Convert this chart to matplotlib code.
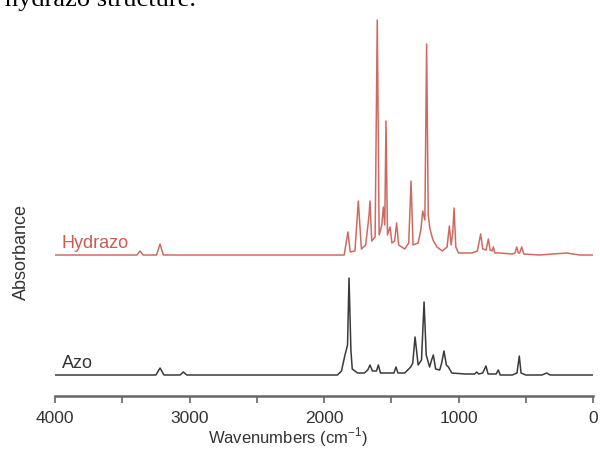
import matplotlib.pyplot as plt
from matplotlib.ticker import MultipleLocator

plt.rcParams['font.family'] = ['Liberation Sans', 'DejaVu Sans']

# Hydrazo spectrum vertices (wavenumber, absorbance above its own baseline)
hyd_wn = [4000, 3390, 3368, 3345, 3245, 3219, 3195,
          1850, 1822, 1805, 1770, 1745, 1722, 1690, 1665, 1658, 1645, 1620,
          1604, 1590, 1570, 1559, 1548, 1539, 1528, 1509, 1495, 1475, 1460,
          1445, 1400, 1370, 1353, 1338, 1300, 1280, 1266, 1250, 1237, 1225,
          1212, 1190, 1160, 1120, 1085, 1068, 1055, 1043, 1033, 1020, 1000,
          900, 860, 835, 820, 795, 778, 765, 750, 741, 730, 700, 600, 580,
          567, 555, 545, 530, 515, 400, 300, 196, 100, 0]
hyd_abs = [0, 0, 0.04, 0, 0, 0.11, 0,
           0, 0.23, 0.03, 0.04, 0.54, 0.06, 0.10, 0.40, 0.54, 0.14, 0.18,
           2.35, 0.20, 0.30, 0.48, 0.30, 1.34, 0.20, 0.28, 0.12, 0.14, 0.32,
           0.10, 0.06, 0.12, 0.74, 0.10, 0.12, 0.25, 0.44, 0.35, 2.11, 0.40,
           0.26, 0.15, 0.08, 0.04, 0.08, 0.29, 0.10, 0.22, 0.47, 0.08, 0.02,
           0.02, 0.04, 0.21, 0.06, 0.05, 0.16, 0.05, 0.04, 0.08, 0.02, 0.02,
           0.01, 0.02, 0.08, 0.02, 0.02, 0.08, 0.01, 0, 0.01, 0.02, 0, 0]

# Azo spectrum vertices
azo_wn = [4000, 3250, 3219, 3190, 3070, 3046, 3020,
          1900, 1870, 1844, 1825, 1814, 1800, 1790, 1750, 1700, 1675, 1658,
          1640, 1610, 1596, 1580, 1540, 1480, 1465, 1450, 1400, 1370, 1355,
          1340, 1323, 1300, 1275, 1256, 1240, 1215, 1200, 1187, 1170, 1140,
          1125, 1108, 1090, 1075, 1050, 950, 880, 865, 850, 820, 796, 780,
          720, 704, 690, 600, 565, 548, 535, 500, 380, 344, 320, 0]
azo_abs = [0, 0, 0.07, 0, 0, 0.03, 0,
           0, 0.04, 0.20, 0.30, 0.97, 0.25, 0.06, 0.02, 0.02, 0.05, 0.10,
           0.04, 0.04, 0.10, 0.02, 0.02, 0.02, 0.08, 0.02, 0.02, 0.06, 0.08,
           0.12, 0.38, 0.10, 0.15, 0.73, 0.20, 0.08, 0.15, 0.20, 0.06, 0.05,
           0.12, 0.24, 0.10, 0.08, 0.02, 0.01, 0.01, 0.03, 0.01, 0.02, 0.09, 0.01,
           0.01, 0.05, 0, 0, 0.02, 0.19, 0.02, 0, 0, 0.02, 0, 0]

azo_offset = 0.21
hyd_offset = 1.41

fig = plt.figure(figsize=(6, 4.56), dpi=100)
ax = fig.add_axes([55/600, 59/456, 538/600, 382/456])

ax.plot(azo_wn, [v + azo_offset for v in azo_abs], color='#3a3a3a', lw=1.1)
ax.plot(hyd_wn, [v + hyd_offset for v in hyd_abs], color='#cf6a62', lw=1.1)

ax.text(3950, azo_offset + 0.08, 'Azo', fontsize=13, color='#333333')
ax.text(3950, hyd_offset + 0.08, 'Hydrazo', fontsize=13, color='#cf5a52')

ax.set_xlim(4000, 0)
ax.set_ylim(0, 3.82)
ax.xaxis.set_major_locator(MultipleLocator(1000))
ax.xaxis.set_minor_locator(MultipleLocator(500))
ax.tick_params(axis='x', which='both', direction='out', length=5, width=1.2,
               color='#666666', labelsize=12.5, labelcolor='#333333', pad=5)
ax.set_yticks([])
for s in ['left', 'top', 'right']:
    ax.spines[s].set_visible(False)
ax.spines['bottom'].set_color('#666666')
ax.spines['bottom'].set_linewidth(1.8)

fig.text(0.48, 0.042, r'Wavenumbers (cm$^{\mathregular{-1}}$)', fontsize=12,
         color='#333333', ha='center', va='center')
fig.text(21/600, 1 - 252/456, 'Absorbance', fontsize=13, color='#333333',
         rotation=90, ha='center', va='center')

# clipped caption from the page above
fig.text(0.008, 1 - 6/456, 'hydrazo structure.', family='Liberation Serif',
         fontsize=19, color='black', va='baseline')

fig.savefig('out.png', dpi=100)
